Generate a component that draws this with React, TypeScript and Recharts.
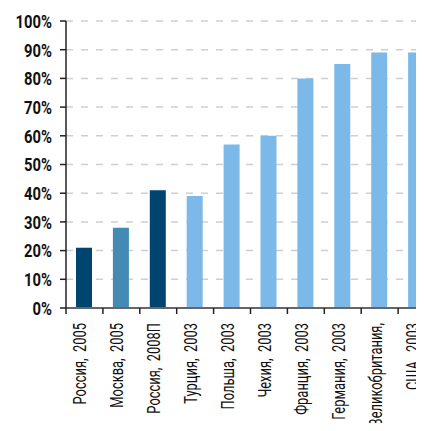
import React from "react";
import { BarChart, Bar, Cell, XAxis, YAxis, CartesianGrid } from "recharts";

const categories = [
  "Россия,  2005",
  "Москва,  2005",
  "Россия,  2008П",
  "Турция,  2003",
  "Польша,  2003",
  "Чехия,  2003",
  "Франция,  2003",
  "Германия,  2003",
  "Великобритания,",
  "США,  2003",
];
const shares = [21, 28, 41, 39, 57, 60, 80, 85, 89, 89];
const barColors = [
  "#00456f",
  "#458ab5",
  "#00456f",
  "#7db9e8",
  "#7db9e8",
  "#7db9e8",
  "#7db9e8",
  "#7db9e8",
  "#7db9e8",
  "#7db9e8",
];
const yTicks = [0, 10, 20, 30, 40, 50, 60, 70, 80, 90, 100];

const data = categories.map((name, i) => ({ name, value: shares[i], color: barColors[i] }));

const CHART_W = 440;
const CHART_H = 431;
const MARGIN = { top: 21, right: 5, bottom: 0, left: 0 };
const Y_AXIS_W = 66;
const BAND = (CHART_W - MARGIN.left - MARGIN.right - Y_AXIS_W) / categories.length;

const FONT = "Roboto, 'Noto Sans', sans-serif";

// tick marks sit on the category boundaries, labels run bottom-to-top
function CategoryTick(props: any) {
  const { x, y, payload } = props;
  const edge = x - BAND / 2;
  return (
    <g>
      <line x1={edge} y1={y} x2={edge} y2={y + 6} stroke="#222" strokeWidth={1.5} />
      <text
        transform={`translate(${x + 2}, ${y + 15}) rotate(-90) scale(0.68, 1)`}
        textAnchor="end"
        fontFamily={FONT}
        fontSize={19}
        fill="#111"
        style={{ whiteSpace: "pre" }}
      >
        {payload.value}
      </text>
    </g>
  );
}

// narrow bold percent labels
function PercentTick(props: any) {
  const { x, y, payload } = props;
  return (
    <text
      transform={`translate(${x}, ${y}) scale(0.78, 1)`}
      textAnchor="end"
      dy="0.36em"
      fontFamily={FONT}
      fontSize={19}
      fontWeight="bold"
      fill="#111"
    >
      {`${payload.value}%`}
    </text>
  );
}

export default function App() {
  return (
    <div style={{ margin: -8, width: 424, height: 431, overflow: "hidden", background: "#fff" }}>
      <BarChart width={CHART_W} height={CHART_H} data={data} margin={MARGIN} barSize={16}>
        <CartesianGrid
          vertical={false}
          stroke="#cfcfcf"
          strokeWidth={1.5}
          strokeDasharray="7 8"
        />
        <XAxis
          dataKey="name"
          interval={0}
          height={123}
          axisLine={{ stroke: "#666", strokeWidth: 2 }}
          tickLine={false}
          tickSize={0}
          tickMargin={0}
          tick={<CategoryTick />}
        />
        <YAxis
          width={Y_AXIS_W}
          domain={[0, 100]}
          ticks={yTicks}
          interval={0}
          axisLine={{ stroke: "#222", strokeWidth: 1.5 }}
          tickLine={{ stroke: "#222", strokeWidth: 1.5 }}
          tickSize={6}
          tickMargin={8}
          tick={<PercentTick />}
        />
        <Bar dataKey="value" isAnimationActive={false}>
          {data.map((d) => (
            <Cell key={d.name} fill={d.color} />
          ))}
        </Bar>
      </BarChart>
    </div>
  );
}
